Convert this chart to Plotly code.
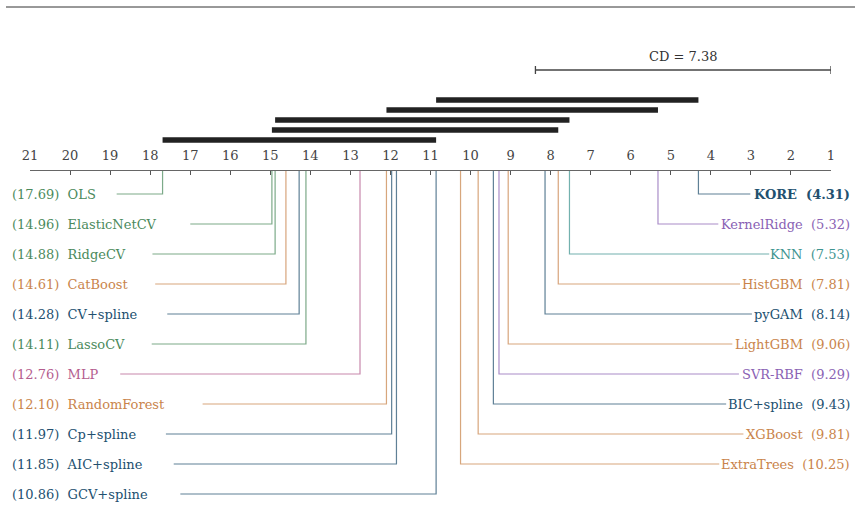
import plotly.graph_objects as go

# ---------------- data ----------------
left_names = ["OLS", "ElasticNetCV", "RidgeCV", "CatBoost", "CV+spline", "LassoCV",
              "MLP", "RandomForest", "Cp+spline", "AIC+spline", "GCV+spline"]
left_ranks = [17.69, 14.96, 14.88, 14.61, 14.28, 14.11, 12.76, 12.10, 11.97, 11.85, 10.86]
left_groups = ["lin", "lin", "lin", "tree", "spl", "lin", "nn", "tree", "spl", "spl", "spl"]

right_names = ["KORE", "KernelRidge", "KNN", "HistGBM", "pyGAM", "LightGBM",
               "SVR-RBF", "BIC+spline", "XGBoost", "ExtraTrees"]
right_ranks = [4.31, 5.32, 7.53, 7.81, 8.14, 9.06, 9.29, 9.43, 9.81, 10.25]
right_groups = ["spl", "kern", "knn", "tree", "spl", "tree", "kern", "spl", "tree", "tree"]

clique_lo = [10.86, 12.10, 14.88, 14.96, 17.69]
clique_hi = [4.31, 5.32, 7.53, 7.81, 10.86]

cd_value = 7.38
n_methods = 21
tick_vals = list(range(21, 0, -1))

# ---------------- style ----------------
W, H = 862, 508
X_L, X_R = 30, 831          # pixel positions of rank 21 and rank 1
AXIS_Y = 170
ROW0, ROW_STEP = 194, 30
FONT = "DejaVu Serif"
FS = 13
colors = {"lin": "#4b8a5c", "tree": "#c9844b", "spl": "#22506f",
          "nn": "#b45d8e", "knn": "#3e9490", "kern": "#8a62b4"}
px_per_rank = (X_R - X_L) / (n_methods - 1)

# approximate DejaVu Serif advance widths (em) for estimating label extents
_cw = {"(": .390, ")": .390, ".": .318, " ": .318, "+": .838, "-": .338,
       "A": .722, "B": .735, "C": .734, "D": .802, "E": .730, "F": .694,
       "G": .799, "H": .872, "I": .395, "K": .747, "L": .694, "M": 1.024,
       "N": .837, "O": .820, "P": .732, "R": .770, "S": .720, "T": .682,
       "V": .722, "X": .750,
       "a": .596, "b": .640, "c": .560, "d": .640, "e": .592, "f": .370,
       "g": .640, "h": .644, "i": .320, "k": .610, "l": .320, "m": .948,
       "n": .644, "o": .602, "p": .640, "r": .478, "s": .513, "t": .402,
       "u": .644, "v": .565, "w": .856, "x": .564, "y": .565}


def text_px(s, bold=False):
    w = sum(_cw.get(c, .636) for c in s) * FS
    return w * (1.12 if bold else 1.0)


def px_to_rank(px):
    return n_methods - (px - X_L) / px_per_rank


fig = go.Figure()
annotations = []

# left side methods
for i, (nm, r, g) in enumerate(zip(left_names, left_ranks, left_groups)):
    y = ROW0 + i * ROW_STEP
    raw = f"({r:.2f})  {nm}"
    start_px = 10 + 1.26 * text_px(raw)
    fig.add_trace(go.Scatter(x=[r, r, px_to_rank(start_px)], y=[AXIS_Y, y, y],
                             mode="lines", line=dict(color=colors[g], width=1.2),
                             opacity=0.72, hoverinfo="skip", showlegend=False))
    annotations.append(dict(x=10 / W, y=y, xref="paper", yref="y",
                            text=raw.replace(" ", "\u00a0"),
                            showarrow=False, xanchor="left", yanchor="middle",
                            font=dict(family=FONT, size=FS, color=colors[g])))

# right side methods
for i, (nm, r, g) in enumerate(zip(right_names, right_ranks, right_groups)):
    y = ROW0 + i * ROW_STEP
    raw = f"{nm}  ({r:.2f})"
    bold = i == 0
    end_px = 852 - text_px(raw, bold) - 4
    label = raw.replace(" ", "\u00a0")
    if bold:
        label = f"<b>{label}</b>"
    fig.add_trace(go.Scatter(x=[r, r, px_to_rank(end_px)], y=[AXIS_Y, y, y],
                             mode="lines", line=dict(color=colors[g], width=1.2),
                             opacity=0.72, hoverinfo="skip", showlegend=False))
    annotations.append(dict(x=852 / W, y=y, xref="paper", yref="y", text=label,
                            showarrow=False, xanchor="right", yanchor="middle",
                            font=dict(family=FONT, size=FS, color=colors[g])))

# cliques
for j, (lo, hi) in enumerate(zip(clique_lo, clique_hi)):
    y = 100 + 10 * j
    fig.add_trace(go.Scatter(x=[lo, hi], y=[y, y], mode="lines",
                             line=dict(color="#222222", width=5.5),
                             hoverinfo="skip", showlegend=False, cliponaxis=False))

# CD bar
cd_y = 70
fig.add_trace(go.Scatter(x=[1, 1 + cd_value], y=[cd_y, cd_y], mode="lines",
                         line=dict(color="#444444", width=1.3),
                         hoverinfo="skip", showlegend=False, cliponaxis=False))
for xv in [1, 1 + cd_value]:
    fig.add_trace(go.Scatter(x=[xv, xv], y=[cd_y - 4, cd_y + 4], mode="lines",
                             line=dict(color="#444444", width=1.3),
                             hoverinfo="skip", showlegend=False, cliponaxis=False))
annotations.append(dict(x=1 + cd_value / 2, y=cd_y - 14, xref="x", yref="y",
                        text=f"CD = {cd_value:.2f}", showarrow=False,
                        xanchor="center", yanchor="middle",
                        font=dict(family=FONT, size=FS, color="#333333")))

fig.update_layout(
    template="none",
    width=W, height=H, margin=dict(l=0, r=0, t=0, b=0, pad=0, autoexpand=False),
    paper_bgcolor="white", plot_bgcolor="white",
    annotations=annotations,
    xaxis=dict(domain=[X_L / W, X_R / W], range=[n_methods, 1],
               side="top", anchor="free", position=1 - AXIS_Y / H,
               automargin=False,
               showline=True, linecolor="#666666", linewidth=1,
               ticks="inside", ticklen=4, tickcolor="#555555", tickwidth=1,
               ticklabelstandoff=5,
               tickvals=tick_vals, ticktext=[str(t) for t in tick_vals],
               tickfont=dict(family=FONT, size=FS, color="#444444"),
               showgrid=False, zeroline=False, fixedrange=True),
    yaxis=dict(range=[H, 0], domain=[0, 1], visible=False, fixedrange=True,
               automargin=False),
    shapes=[dict(type="line", xref="paper", yref="y", x0=6 / W, x1=855 / W,
                 y0=7, y1=7, line=dict(color="#333333", width=1))],
)

fig.write_html("out.html", config={"responsive": False, "displayModeBar": False},
               post_script="document.body.style.margin='0';"
                           "document.body.style.overflow='hidden';")
